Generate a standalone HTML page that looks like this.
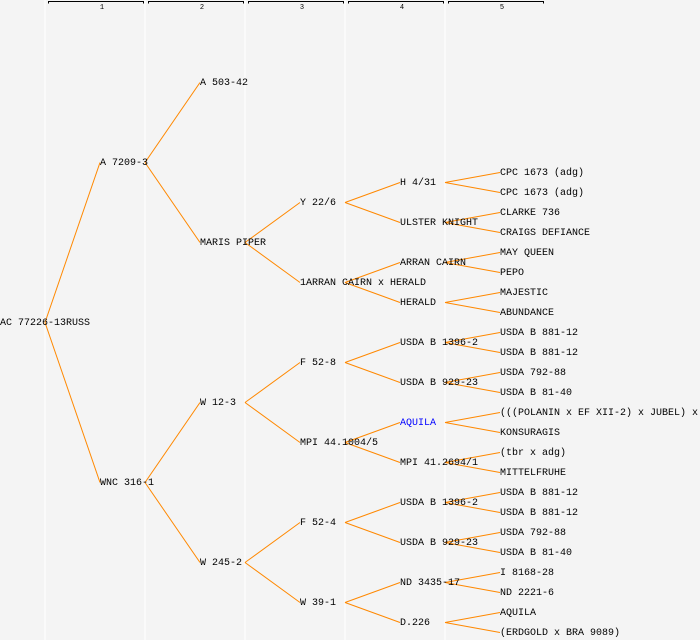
<!DOCTYPE html>
<html><head><style>
html,body{margin:0;padding:0;background:#f4f4f4;}
svg{display:block;}
text{font-family:"Liberation Mono","DejaVu Sans Mono",monospace;font-size:10px;fill:#000;}
.n{font-size:7px;}
</style></head><body>
<svg width="700" height="640" xmlns="http://www.w3.org/2000/svg">
<rect width="700" height="640" fill="#f4f4f4"/>
<g stroke="#ffffff" stroke-width="1.2">
<line x1="45" y1="0" x2="45" y2="640"/><line x1="145" y1="0" x2="145" y2="640"/><line x1="245" y1="0" x2="245" y2="640"/><line x1="345" y1="0" x2="345" y2="640"/><line x1="445" y1="0" x2="445" y2="640"/>
</g>
<g stroke="#000" stroke-width="1" fill="none">
<path d="M48.5 3.5V1.5H143.5V3.5"/><path d="M148.5 3.5V1.5H243.5V3.5"/><path d="M248.5 3.5V1.5H343.5V3.5"/><path d="M348.5 3.5V1.5H443.5V3.5"/><path d="M448.5 3.5V1.5H543.5V3.5"/>
</g>
<g class="n" text-anchor="middle">
<text class="n" x="102" y="9">1</text><text class="n" x="202" y="9">2</text><text class="n" x="302" y="9">3</text><text class="n" x="402" y="9">4</text><text class="n" x="502" y="9">5</text>
</g>
<g id="L" stroke="#ff8800" stroke-width="1" fill="none"></g>
<g id="T"></g>
</svg>
<script>
var L=document.getElementById('L'),T=document.getElementById('T');
var ns="http://www.w3.org/2000/svg";
function line(x1,y1,x2,y2){var l=document.createElementNS(ns,'line');l.setAttribute('x1',x1);l.setAttribute('y1',y1+0.5);l.setAttribute('x2',x2);l.setAttribute('y2',y2+0.5);L.appendChild(l);}
function txt(x,y,s,c){var t=document.createElementNS(ns,'text');t.setAttribute('x',x);t.setAttribute('y',y+3);if(c)t.setAttribute('style','fill:'+c);t.textContent=s;T.appendChild(t);}
var g5=["CPC 1673 (adg)","CPC 1673 (adg)","CLARKE 736","CRAIGS DEFIANCE","MAY QUEEN","PEPO","MAJESTIC","ABUNDANCE","USDA B 881-12","USDA B 881-12","USDA 792-88","USDA B 81-40","(((POLANIN x EF XII-2) x JUBEL) x SIEGLINDE)","KONSURAGIS","(tbr x adg)","MITTELFRUHE","USDA B 881-12","USDA B 881-12","USDA 792-88","USDA B 81-40","I 8168-28","ND 2221-6","AQUILA","(ERDGOLD x BRA 9089)"];
var g4=["H 4/31","ULSTER KNIGHT","ARRAN CAIRN","HERALD","USDA B 1396-2","USDA B 929-23","AQUILA","MPI 41.2694/1","USDA B 1396-2","USDA B 929-23","ND 3435-17","D.226"];
var g3=["Y 22/6","1ARRAN CAIRN x HERALD","F 52-8","MPI 44.1004/5","F 52-4","W 39-1"];
var i;
for(i=0;i<24;i++){txt(500,172+20*i,g5[i]);}
for(i=0;i<12;i++){var y=182+40*i;txt(400,y,g4[i],i==6?'#0000ff':null);line(445,y,500,y-10);line(445,y,500,y+10);}
for(i=0;i<6;i++){var y=202+80*i;txt(300,y,g3[i]);line(345,y,400,y-20);line(345,y,400,y+20);}
txt(200,82,"A 503-42");
txt(200,242,"MARIS PIPER");line(245,242,300,202);line(245,242,300,282);
txt(200,402,"W 12-3");line(245,402,300,362);line(245,402,300,442);
txt(200,562,"W 245-2");line(245,562,300,522);line(245,562,300,602);
txt(100,162,"A 7209-3");line(145,162,200,82);line(145,162,200,242);
txt(100,482,"WNC 316-1");line(145,482,200,402);line(145,482,200,562);
txt(0,322,"AC 77226-13RUSS");line(45,322,100,162);line(45,322,100,482);
</script>
</body></html>
